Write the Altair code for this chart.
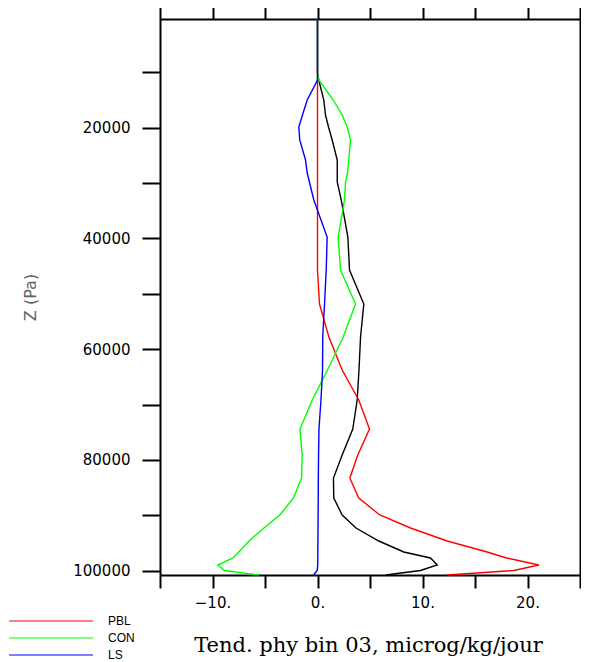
import altair as alt
import pandas as pd

# pressure levels (Pa)
levels = [370, 10122, 11386, 15000, 17707, 19874, 22221, 25833, 28181, 29806,
          33057, 39739, 45698, 51838, 57798, 63757, 69175, 74412, 79108, 83261,
          86873, 89943, 92291, 94638, 96625, 97708, 98972, 99965, 100778]

pbl = [0, 0, 0, 0, 0, 0, 0, 0, 0, 0,
       0, 0, 0, 0.19, 1.08, 2.35, 3.93, 4.95, 3.84, 3.08,
       3.93, 5.93, 8.86, 12.35, 16.16, 18.0, 21.08, 18.7, 12.35]

con = [0, 0, 0.12, 1.5, 2.35, 2.83, 3.14, 2.98, 2.86, 2.67,
       2.57, 1.97, 2.19, 3.62, 2.45, 0.95, -0.5, -1.67, -1.46, -1.52,
       -2.29, -3.59, -5.1, -6.52, -7.5, -8.05, -9.48, -8.86, -5.59]

ls = [0, 0, 0, -0.98, -1.43, -1.78, -1.69, -1.14, -0.98, -0.77,
      -0.35, 0.92, 0.83, 0.67, 0.50, 0.48, 0.33, 0.14, 0.10, 0.08,
      0.07, 0.06, 0.05, 0.04, 0.03, 0.03, 0.02, -0.03, -0.38]

total = [0, 0, 0.12, 0.6, 0.76, 1.05, 1.4, 1.88, 1.88, 1.88,
         2.26, 2.89, 3.05, 4.41, 4.1, 3.95, 3.78, 3.36, 2.35, 1.52,
         1.55, 2.35, 3.67, 5.84, 8.22, 10.76, 11.4, 9.81, 6.48]

series_names = ["PBL", "CON", "LS"]
series_colors = ["#ff0000", "#00ff00", "#0000ff"]
x_ticks = [-15, -10, -5, 0, 5, 10, 15, 20, 25]
y_ticks = [10000, 20000, 30000, 40000, 50000, 60000, 70000, 80000, 90000, 100000]

rows = []
for name, vals in zip(series_names, [pbl, con, ls]):
    for i, (p, v) in enumerate(zip(levels, vals)):
        rows.append({"series": name, "p": p, "v": v, "i": i})
df = pd.DataFrame(rows)
tot = pd.DataFrame({"p": levels, "v": total, "i": list(range(len(levels)))})

xscale = alt.Scale(domain=[-15, 25], nice=False, zero=False)
yscale = alt.Scale(domain=[370, 100778], nice=False, zero=False, reverse=True)

x_bottom = alt.Axis(
    orient="bottom", values=x_ticks,
    labelExpr="datum.value % 10 == 0 ? format(datum.value, 'd') + '.' : ''",
    title="Tend. phy bin 03, microg/kg/jour",
    tickSize=13, labelPadding=7, labelFont="DejaVu Sans", labelFontSize=15,
    labelColor="black", labelOverlap=False, grid=False,
    titleFont="DejaVu Serif", titleFontSize=21, titleFontWeight="normal",
    titleColor="black", titleX=208, titleY=70, titleBaseline="middle",
    titleAlign="center",
)
y_left = alt.Axis(
    orient="left", values=y_ticks,
    labelExpr="datum.value % 20000 == 0 ? format(datum.value, 'd') : ''",
    title="Z (Pa)",
    tickSize=18, labelPadding=12, labelFont="DejaVu Sans", labelFontSize=15,
    labelColor="black", labelOverlap=False, grid=False,
    titleFont="DejaVu Sans", titleFontSize=16, titleFontWeight="normal",
    titleColor="#606060", titleX=-130, titleY=278, titleAngle=270,
    titleAlign="center", titleBaseline="middle",
)
x_top = alt.Axis(orient="top", values=x_ticks, labels=False, title=None,
                 tickSize=12, grid=False)
y_right = alt.Axis(orient="right", values=y_ticks, labels=False, title=None,
                   tickSize=10, grid=False)

black_line = alt.Chart(tot).mark_line(color="black", strokeWidth=1.4).encode(
    x=alt.X("v:Q", scale=xscale, axis=x_bottom),
    y=alt.Y("p:Q", scale=yscale, axis=y_left),
    order=alt.Order("i:Q"),
)

colored = alt.Chart(df).mark_line(strokeWidth=1.4).encode(
    x=alt.X("v:Q", scale=xscale, axis=x_top),
    y=alt.Y("p:Q", scale=yscale, axis=y_right),
    order=alt.Order("i:Q"),
    color=alt.Color(
        "series:N",
        scale=alt.Scale(domain=series_names, range=series_colors),
        sort=series_names,
        legend=alt.Legend(
            title=None, orient="none", legendX=-152, legendY=595,
            symbolType="M-7,0H7", symbolSize=144, symbolStrokeWidth=1.2,
            symbolOffset=36,
            labelFont="Liberation Sans", labelFontSize=12, labelColor="black",
            labelOffset=50, rowPadding=4,
        ),
    ),
)

chart = alt.layer(black_line, colored).resolve_axis(
    x="independent", y="independent"
).properties(
    width=420, height=556,
    autosize=alt.AutoSizeParams(type="none"),
    padding={"left": 152, "top": 11, "right": 1, "bottom": 87},
).configure_view(stroke=None).configure_axis(
    domainColor="black", domainWidth=2, tickColor="black", tickWidth=2,
)

chart.save("out.html", embed_options={"renderer": "svg", "actions": False})
